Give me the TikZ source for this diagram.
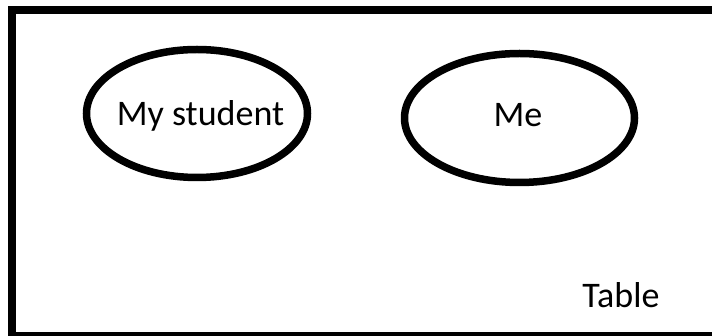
\documentclass[tikz,border=0pt]{standalone}
\usepackage{fontspec}
\setmainfont{Carlito}
\usetikzlibrary{shapes.geometric}
\begin{document}
\begin{tikzpicture}[x=1pt,y=-1pt,
  oval/.style={ellipse, draw=black, line width=7.5pt, inner sep=0pt},
  frame/.style={draw=black, line width=8.5pt},
  lbl/.style={anchor=base, inner sep=0pt, text=black, font=\fontsize{36}{40}\selectfont}]
\useasboundingbox (0,0) rectangle (712,336);
\begin{scope}
\clip (0,0) rectangle (712,336);
\draw[frame] (12,10) rectangle (730,336);
\end{scope}
\node[oval, minimum width=221, minimum height=128] (student) at (197,113.5) {};
\node[oval, minimum width=230, minimum height=129] (me) at (519.5,118) {};
\node[lbl] (studentlabel) at (200.5,126) {My student};
\node[lbl] (melabel) at (518,127) {Me};
\node[lbl] (table) at (621,308) {Table};
\end{tikzpicture}
\end{document}
